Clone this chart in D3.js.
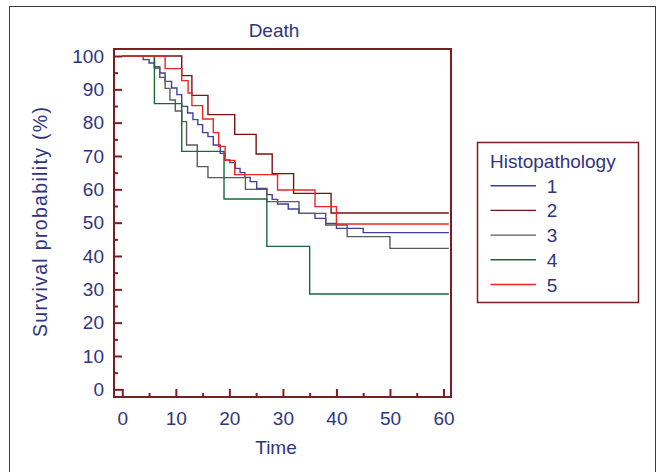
<!DOCTYPE html>
<html>
<head>
<meta charset="utf-8">
<script src="https://cdn.jsdelivr.net/npm/d3@7"></script>
<style>
  body { margin: 0; background: #fff; }
  text { font-family: "Liberation Sans", Arial, sans-serif; fill: #2f3481; }
</style>
</head>
<body>
<div id="chart"></div>
<script>
// Kaplan-Meier steps: [time, survival %]
const groups = ["1", "2", "3", "4", "5"];
const colors = ["#4040a0", "#7a1212", "#5a5a5a", "#17693a", "#f02424"];
const steps1 = [[0,100],[3.9,98.9],[5,97.9],[6,96.4],[7,94.9],[8,92.4],[9.2,90.4],[10.2,88.4],[11.1,84.9],
  [12.2,82.9],[13.2,80.9],[14.1,79.4],[15,77],[16,75.8],[17,73.3],[18.3,70.8],[19.2,68.8],[20.1,68],
  [21.1,66.3],[22,65],[22.9,63.6],[23.9,62.3],[25.1,60.3],[27,58.4],[28,57],[29,55.6],[31,54.1],
  [33,52.8],[36,51.3],[38,49.8],[40,48.3],[45,47]];
const steps2 = [[0,100],[11.1,94.1],[13,88.2],[16,82.4],[21,76.5],[25,70.6],[28,64.7],[32,58.8],[39,52.9]];
const steps3 = [[0,100],[6,96.8],[7,93.6],[8,90.3],[8.9,86.8],[9.9,83.5],[11.1,80.3],[12,73.3],[14,66.8],
  [16,63.5],[23,60],[27,56.3],[33,52.8],[38,49.3],[42,45.8],[50,42.3]];
const steps4 = [[0,100],[6,85.7],[11.1,71.4],[19,57.1],[27,42.9],[35,28.6]];
const steps5 = [[0,100],[8,96.2],[11.1,92.6],[12.3,88.9],[13,85.1],[15,81.1],[17,77],[18,72.9],[19.2,68.7],
  [21,64.4],[29,59.8],[36,54.8],[40,49.6]];
const endTime = 61;
const xTicks = [0, 10, 20, 30, 40, 50, 60];
const yTicks = [0, 10, 20, 30, 40, 50, 60, 70, 80, 90, 100];

const allSteps = [steps1, steps2, steps3, steps4, steps5];

const W = 657, H = 472;
const svg = d3.select("#chart").append("svg")
  .attr("width", W).attr("height", H);

// outer frame
svg.append("rect")
  .attr("x", 9.5).attr("y", 6.5).attr("width", 646).attr("height", 480)
  .attr("fill", "none").attr("stroke", "#3a3a3a").attr("stroke-width", 1);

const x = d3.scaleLinear().domain([-1.55, 61.4]).range([114, 451]);
const y = d3.scaleLinear().domain([-2.3, 102.1]).range([397, 49]);

const axisColor = "#7a1e22";

// minor ticks
const xMinor = d3.range(5, 61, 10);
const yMinor = d3.range(5, 100, 10);

const gx = svg.append("g").attr("transform", "translate(0,397)")
  .call(d3.axisBottom(x).tickValues(xTicks).tickSize(-8).tickPadding(15));
const gxm = svg.append("g").attr("transform", "translate(0,397)")
  .call(d3.axisBottom(x).tickValues(xMinor).tickSize(-4).tickFormat(""));
const gy = svg.append("g").attr("transform", "translate(114,0)")
  .call(d3.axisLeft(y).tickValues(yTicks).tickSize(-8).tickPadding(10));
const gym = svg.append("g").attr("transform", "translate(114,0)")
  .call(d3.axisLeft(y).tickValues(yMinor).tickSize(-4).tickFormat(""));

[gx, gxm, gy, gym].forEach(g => {
  g.select(".domain").remove();
  g.selectAll(".tick line").attr("stroke", axisColor).attr("stroke-width", 2);
  g.selectAll(".tick text").attr("font-size", 19)
    .attr("font-family", "'Liberation Sans', Arial, sans-serif").attr("fill", "#2f3481");
});

// survival curves
const line = d3.line()
  .x(d => x(d[0])).y(d => y(d[1]))
  .curve(d3.curveStepAfter);

allSteps.forEach((s, i) => {
  const pts = s.concat([[endTime, s[s.length - 1][1]]]);
  svg.append("path")
    .datum(pts)
    .attr("d", line)
    .attr("fill", "none")
    .attr("stroke", colors[i])
    .attr("stroke-width", 1.4);
});

// plot frame
svg.append("rect")
  .attr("x", 114).attr("y", 49).attr("width", 337).attr("height", 348)
  .attr("fill", "none").attr("stroke", axisColor).attr("stroke-width", 2);

// titles
svg.append("text").attr("x", 274).attr("y", 37).attr("text-anchor", "middle")
  .attr("font-size", 19).text("Death");
svg.append("text").attr("x", 276).attr("y", 454).attr("text-anchor", "middle")
  .attr("font-size", 19).text("Time");
svg.append("text")
  .attr("transform", "translate(47,222) rotate(-90)")
  .attr("text-anchor", "middle").attr("font-size", 19.5)
  .attr("textLength", 230).attr("lengthAdjust", "spacing")
  .text("Survival probability (%)");

// legend
const lg = svg.append("g");
lg.append("rect").attr("x", 477.5).attr("y", 142.5).attr("width", 161).attr("height", 160)
  .attr("fill", "none").attr("stroke", axisColor).attr("stroke-width", 1.5);
lg.append("text").attr("x", 490).attr("y", 168).attr("font-size", 19).text("Histopathology");
groups.forEach((g, i) => {
  const yy = 185.7 + i * 24.7;
  lg.append("line").attr("x1", 490.5).attr("x2", 536).attr("y1", yy).attr("y2", yy)
    .attr("stroke", colors[i]).attr("stroke-width", 1.4);
  lg.append("text").attr("x", 552).attr("y", yy + 7).attr("text-anchor", "middle")
    .attr("font-size", 19).text(g);
});
</script>
</body>
</html>
